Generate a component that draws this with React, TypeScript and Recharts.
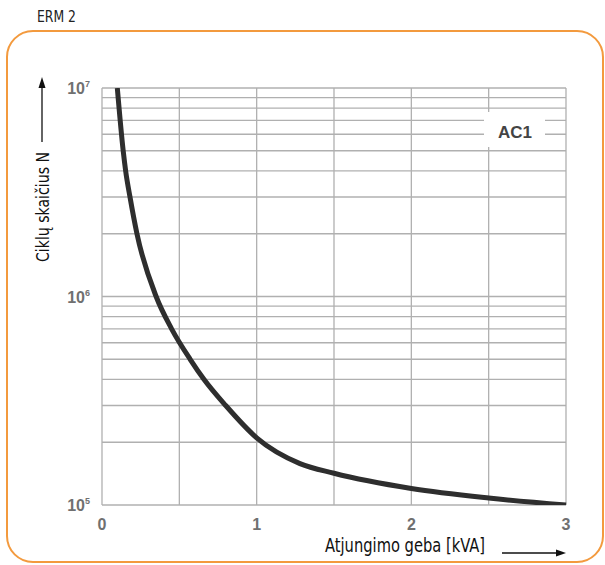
import React from 'react';
import { LineChart, Line, XAxis, YAxis, CartesianGrid } from 'recharts';

// kreivės taškai nuskaityti nuo paveikslo
const switchingPower = [0.099, 0.137, 0.153, 0.181, 0.226, 0.35, 0.45, 0.57, 0.66, 0.8, 1.0, 1.28, 1.5, 2.0, 2.5, 3.0];
const cycles = [1e7, 5e6, 4e6, 3e6, 2e6, 1e6, 7e5, 5e5, 4e5, 3e5, 2.1e5, 1.58e5, 1.42e5, 1.2e5, 1.08e5, 1.0e5];

const xTicks = [0, 0.5, 1, 1.5, 2, 2.5, 3];
const xTickLabels = ['0', '', '1', '', '2', '', '3'];
const yTicks = [
  1e5, 2e5, 3e5, 4e5, 5e5, 6e5, 7e5, 8e5, 9e5,
  1e6, 2e6, 3e6, 4e6, 5e6, 6e6, 7e6, 8e6, 9e6,
  1e7,
];
const yDecades = [1e5, 1e6, 1e7];
const yDecadeExponents = ['5', '6', '7'];

const title = 'ERM 2';
const yTitle = 'Ciklų skaičius N';
const xTitle = 'Atjungimo geba [kVA]';
const seriesLabel = 'AC1';

const data = switchingPower.map((x, i) => ({ x, n: cycles[i] }));

const narrow = '"DejaVu Sans Condensed", "Liberation Sans Narrow", sans-serif';
const tickFont = '"Liberation Sans", Arial, sans-serif';

const renderYTick = (props: any) => {
  const { x, y, payload } = props;
  const idx = yDecades.indexOf(payload.value);
  if (idx < 0) return <g />;
  return (
    <text x={x} y={y + 6} textAnchor="end" fontFamily={tickFont} fontWeight="bold" fontSize={16} fill="#707070">
      10<tspan dy={-7} fontSize={9}>{yDecadeExponents[idx]}</tspan>
    </text>
  );
};

const renderXTick = (props: any) => {
  const { x, y, payload } = props;
  const label = xTickLabels[xTicks.indexOf(payload.value)];
  if (!label) return <g />;
  return (
    <text x={x} y={y + 17} textAnchor="middle" fontFamily={tickFont} fontWeight="bold" fontSize={16} fill="#707070">
      {label}
    </text>
  );
};

export default function App() {
  return (
    <div style={{ position: 'absolute', left: 0, top: 0, width: 605, height: 565, background: '#fff' }}>
      {/* rėmelis ir antraštė */}
      <svg width={605} height={565} style={{ position: 'absolute', left: 0, top: 0 }}>
        <text x={37} y={22} fontFamily={narrow} fontSize={16} fill="#222" textLength={39} lengthAdjust="spacingAndGlyphs">
          {title}
        </text>
        <rect x={7} y={31} width={596} height={531} rx={26} ry={26} fill="none" stroke="#F39A3E" strokeWidth={2} />
      </svg>

      <div style={{ position: 'absolute', left: 0, top: 0 }}>
        <LineChart width={605} height={565} data={data} margin={{ top: 88, right: 39, bottom: 30, left: 62 }}>
          <CartesianGrid stroke="#b0b0b0" strokeWidth={1.3} />
          <XAxis
            dataKey="x"
            type="number"
            domain={[0, 3]}
            ticks={xTicks}
            height={30}
            axisLine={false}
            tickLine={false}
            tickSize={0}
            tickMargin={8}
            tick={renderXTick}
            interval={0}
          />
          <YAxis
            dataKey="n"
            scale="log"
            domain={[1e5, 1e7]}
            allowDataOverflow
            ticks={yTicks}
            width={40}
            axisLine={false}
            tickLine={false}
            tickSize={0}
            tickMargin={12}
            tick={renderYTick}
            interval={0}
          />
          <Line
            type="monotone"
            dataKey="n"
            stroke="#2e2e2e"
            strokeWidth={5}
            dot={false}
            isAnimationActive={false}
          />
        </LineChart>
      </div>

      {/* ašių pavadinimai, rodyklės, AC1 žyma */}
      <svg width={605} height={565} style={{ position: 'absolute', left: 0, top: 0, pointerEvents: 'none' }}>
        <rect x={484} y={112} width={61} height={35} fill="#fff" />
        <text x={515} y={138} textAnchor="middle" fontFamily={tickFont} fontWeight="bold" fontSize={17} fill="#444">
          {seriesLabel}
        </text>

        <line x1={42} y1={142} x2={42} y2={84} stroke="#111" strokeWidth={1.3} />
        <polygon points="38.5,88 45.5,88 42,77" fill="#111" />
        <text
          x={49}
          y={207}
          transform="rotate(-90 49 207)"
          textAnchor="middle"
          fontFamily={narrow}
          fontSize={18}
          fill="#111"
          textLength={110}
          lengthAdjust="spacingAndGlyphs"
        >
          {yTitle}
        </text>

        <text
          x={325}
          y={552}
          fontFamily={narrow}
          fontSize={19}
          fill="#111"
          textLength={160}
          lengthAdjust="spacingAndGlyphs"
        >
          {xTitle}
        </text>
        <line x1={502} y1={553} x2={558} y2={553} stroke="#111" strokeWidth={1.3} />
        <polygon points="556,549.5 556,556.5 566,553" fill="#111" />
      </svg>
    </div>
  );
}
